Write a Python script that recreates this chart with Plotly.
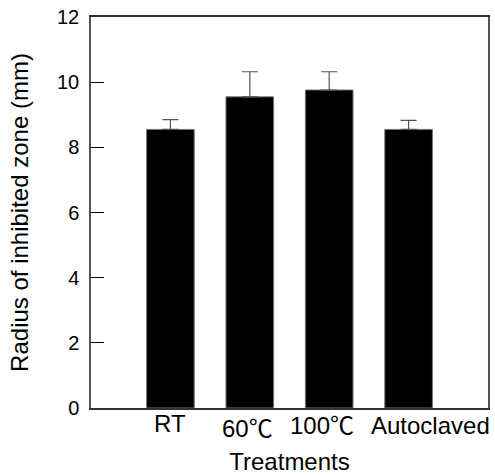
import plotly.graph_objects as go

categories = ["RT", "60℃", "100℃", "Autoclaved"]
radius_mm = [8.55, 9.55, 9.76, 8.55]
sd_mm = [0.30, 0.77, 0.56, 0.28]
y_ticks = [0, 2, 4, 6, 8, 10, 12]
label_shift = [0, -2, -7, 22]
label_drop = [0, 5, 2, 2]

FONT = "Liberation Sans, Arial, Helvetica, Noto Sans CJK SC, sans-serif"

fig = go.Figure()
fig.add_trace(go.Bar(
    x=list(range(len(categories))),
    y=radius_mm,
    width=0.6,
    marker=dict(color="black", line=dict(color="#777", width=1)),
    error_y=dict(type="data", array=sd_mm, symmetric=False, arrayminus=[0]*4,
                 color="#555", thickness=1.2, width=8, visible=True),
))

for i, (c, s, d) in enumerate(zip(categories, label_shift, label_drop)):
    fig.add_annotation(x=i, y=0, xref="x", yref="y", text=c, showarrow=False,
                       xanchor="center", yanchor="top", xshift=s, yshift=-d,
                       font=dict(family=FONT, size=24, color="black"))

fig.update_layout(
    width=495, height=475,
    margin=dict(l=91, r=7, t=17, b=67),
    plot_bgcolor="white", paper_bgcolor="white",
    showlegend=False,
    font=dict(family=FONT, color="black"),
)
fig.update_xaxes(
    range=[-1, 4], showticklabels=False, ticks="", showgrid=False, zeroline=False,
    showline=True, linecolor="#333", linewidth=1.5, mirror=True, automargin=False,
    title=dict(text="Treatments", font=dict(family=FONT, size=24), standoff=52),
)
fig.update_yaxes(
    range=[0, 12], tickvals=y_ticks, ticks="inside", ticklen=13, tickcolor="black",
    tickwidth=1, showgrid=False, zeroline=False, automargin=False,
    showline=True, linecolor="#555", linewidth=1.5, mirror=True,
    tickfont=dict(family=FONT, size=20), ticklabelstandoff=6,
    title=dict(text="Radius of inhibited zone (mm)", font=dict(family=FONT, size=24), standoff=22),
)

fig.write_html("out.html")
